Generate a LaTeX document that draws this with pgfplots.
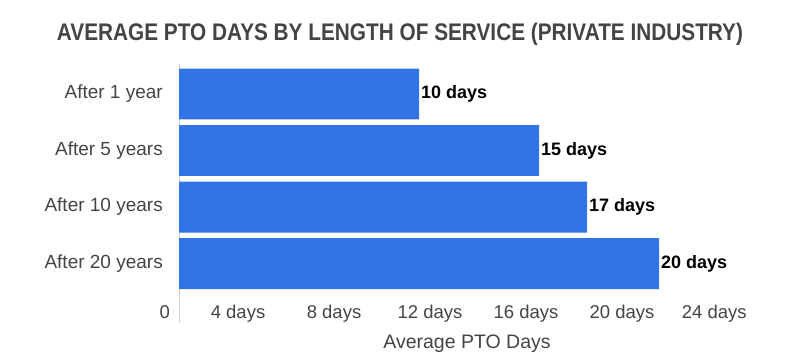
\documentclass[border=0pt]{standalone}
\usepackage{pgfplots}
\pgfplotsset{compat=1.18}
\usepackage{fontspec}
\setmainfont{Liberation Sans}
\definecolor{barblue}{HTML}{3274E6}
\definecolor{txtgrey}{HTML}{444444}
\definecolor{axgrey}{HTML}{D0D0D0}
\begin{document}
\begin{tikzpicture}
\path[use as bounding box] (0,0) rectangle (800pt,362pt);
\node[anchor=base, text=txtgrey, inner sep=0pt] at (400pt,321pt)
  {\resizebox{686pt}{\height}{\fontsize{24}{28}\selectfont\bfseries AVERAGE PTO DAYS BY LENGTH OF SERVICE (PRIVATE INDUSTRY)}};
\begin{axis}[
  at={(179pt,39pt)}, anchor=south west,
  scale only axis, width=576pt, height=259pt,
  xmin=0, xmax=24,
  ymin=-0.53, ymax=4.05, y dir=reverse,
  xbar, bar width=0.9,
  /pgf/number format/assume math mode=true,
  axis lines*=left,
  x axis line style={draw=none},
  y axis line style={draw=axgrey, line width=0.8pt},
  major tick length=0pt,
  xtick={0,2.46,6.46,10.46,14.46,18.46,22.3},
  xticklabels={\llap{0\hspace{9pt}},4 days,8 days,12 days,16 days,20 days,24 days},
  xticklabel style={anchor=base, yshift=5pt, text=txtgrey, font=\fontsize{18.5}{21}\selectfont},
  ytick={0,1,2,3},
  yticklabels={After 1 year,After 5 years,After 10 years,After 20 years},
  yticklabel style={anchor=east, inner sep=0pt, xshift=-16pt, text=txtgrey, font=\fontsize{19}{22}\selectfont},
  xlabel={Average PTO Days},
  xlabel style={at={(axis description cs:0.5,0)}, anchor=base, yshift=-25pt, text=txtgrey, font=\fontsize{19.5}{22}\selectfont},
  clip=false,
  nodes near coords={\pgfmathprintnumber{\pgfplotspointmeta} days},
  nodes near coords style={anchor=west, inner sep=2pt, text=black, font=\fontsize{18}{21}\selectfont\bfseries},
]
\addplot[fill=barblue, draw=none] coordinates {(10,0) (15,1) (17,2) (20,3)};
\end{axis}
\end{tikzpicture}
\end{document}
